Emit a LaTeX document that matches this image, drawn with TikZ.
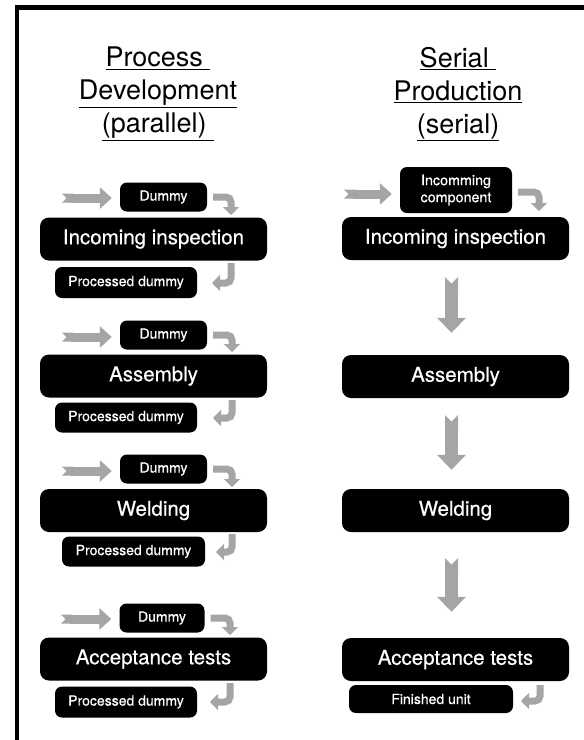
\documentclass[tikz,border=0pt]{standalone}
\usepackage{fontspec}
\setmainfont{TeX Gyre Heros}
\newfontfamily\boxfont[FakeBold=0.5]{TeX Gyre Heros}
\usetikzlibrary{arrows.meta}
\definecolor{arrgray}{RGB}{165,165,165}
\begin{document}
\begin{tikzpicture}[x=1pt,y=-1pt,
  bigbox/.style={fill=black,text=white,rounded corners=9pt,minimum width=227pt,minimum height=43pt,inner sep=0pt,font=\boxfont\fontsize{20.5}{24}\selectfont},
  smallbox/.style={fill=black,text=white,rounded corners=7pt,minimum height=29pt,inner sep=0pt,font=\boxfont\fontsize{14}{17}\selectfont},
  titletext/.style={align=center,font=\fontsize{27}{33}\selectfont},
  inarrow/.style={draw=arrgray,line width=9pt,{Triangle Cap[reversed]}-{Triangle[length=12pt,width=21pt]},shorten >=8pt},
  turnarrow/.style={draw=arrgray,line width=7pt,rounded corners=5pt,-{Triangle[length=8pt,width=16pt]}},
  downarrow/.style={draw=arrgray,line width=13pt,{Triangle Cap[reversed]}-{Triangle[length=15pt,width=28pt]}}
]
\useasboundingbox (0,0) rectangle (584,740);
% frame
\draw[line width=4.5pt] (17,745) -- (17,7.5) -- (590,7.5);

% titles
\node[titletext] (tl) at (158,94) {\underline{Process\ }\\\underline{Development}\\\underline{(parallel)\ }};
\node[titletext] (tr) at (458,94) {\underline{Serial\ }\\\underline{Production}\\\underline{(serial)}};

% ---------- left column ----------
% row 1
\node[smallbox,minimum width=87pt] (d1) at (163.5,197) {Dummy};
\node[bigbox] (s1) at (153.5,239) {Incoming inspection};
\node[smallbox,minimum width=142pt,minimum height=31pt] (p1) at (126,282.5) {Processed dummy};
\coordinate (a1) at (62,198);
\draw[inarrow] (a1) -- (a1 -| d1.west);
\coordinate (c1) at (231,215);
\draw[turnarrow] ([xshift=6pt]d1.east) -| (c1);
\coordinate (e1) at (231,263);
\coordinate (f1) at (212,283);
\draw[turnarrow] (e1) |- (f1);

% row 2
\node[smallbox,minimum width=87pt] (d2) at (163.5,335) {Dummy};
\node[bigbox] (s2) at (153.5,376) {Assembly};
\node[smallbox,minimum width=142pt,minimum height=30pt] (p2) at (126,417.5) {Processed dummy};
\coordinate (a2) at (62,337);
\draw[inarrow] (a2) -- (a2 -| d2.west);
\coordinate (c2) at (232,352);
\draw[turnarrow] ([xshift=6pt]d2.east) -| (c2);
\coordinate (e2) at (232,400);
\coordinate (f2) at (213,418);
\draw[turnarrow] (e2) |- (f2);

% row 3
\node[smallbox,minimum width=87pt] (d3) at (163.5,469) {Dummy};
\node[bigbox] (s3) at (153.5,510.5) {Welding};
\node[smallbox,minimum width=143pt,minimum height=30pt] (p3) at (133.5,551.5) {Processed dummy};
\coordinate (a3) at (62,471);
\draw[inarrow] (a3) -- (a3 -| d3.west);
\coordinate (c3) at (232,487);
\draw[turnarrow] ([xshift=6pt]d3.east) -| (c3);
\coordinate (e3) at (232,534);
\coordinate (f3) at (216,552);
\draw[turnarrow] (e3) |- (f3);

% row 4
\node[smallbox,minimum width=85pt] (d4) at (162,618) {Dummy};
\node[bigbox] (s4) at (153.5,659) {Acceptance tests};
\node[smallbox,minimum width=142pt,minimum height=31pt] (p4) at (126,702) {Processed dummy};
\coordinate (a4) at (61,619);
\draw[inarrow] (a4) -- (a4 -| d4.west);
\coordinate (c4) at (230,635);
\draw[turnarrow] ([xshift=6pt]d4.east) -| (c4);
\coordinate (e4) at (230,683);
\coordinate (f4) at (210,702);
\draw[turnarrow] (e4) |- (f4);

% ---------- right column ----------
\node[smallbox,minimum width=112pt,minimum height=46pt,align=center,font=\boxfont\fontsize{14.3}{17}\selectfont] (ic) at (456,190) {Incomming\\component};
\node[bigbox] (r1) at (455.5,238.5) {Incoming inspection};
\node[bigbox] (r2) at (455.5,376.5) {Assembly};
\node[bigbox] (r3) at (455.5,510.5) {Welding};
\node[bigbox] (r4) at (455.5,659.5) {Acceptance tests};
\node[smallbox,minimum width=164pt,minimum height=28pt] (fu) at (431,699) {Finished unit};

\coordinate (ra) at (344,194);
\draw[inarrow] (ra) -- (ra -| ic.west);
\coordinate (rc) at (539,211);
\draw[turnarrow] ([xshift=6pt,yshift=-2pt]ic.east) -| (rc);

\draw[downarrow] ([xshift=-4pt,yshift=-17pt]r1.south) -- ([xshift=-4pt,yshift=22pt]r2.north);
\draw[downarrow] ([xshift=-4pt,yshift=-17pt]r2.south) -- ([xshift=-4pt,yshift=19pt]r3.north);
\draw[downarrow] ([xshift=-4pt,yshift=-26pt]r3.south) -- ([xshift=-4pt,yshift=26pt]r4.north);

\coordinate (re) at (540,685);
\coordinate (rf) at (521,701);
\draw[turnarrow] (re) |- (rf);
\end{tikzpicture}
\end{document}
